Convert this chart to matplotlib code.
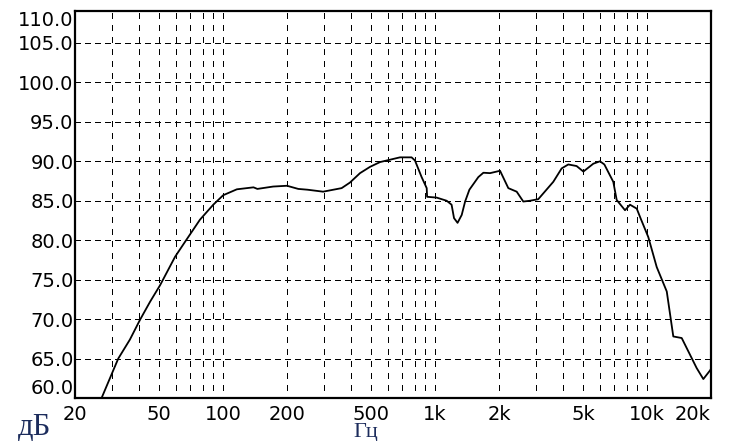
import numpy as np
import matplotlib
matplotlib.use("Agg")
import matplotlib.pyplot as plt

plt.rcParams['lines.scale_dashes'] = False

# frequency response
freq = [26.7, 30.3, 32.0, 36.3, 40.5, 45.2, 50.4, 59.3, 66.1, 77.7, 89.8, 100,
        116, 139, 145, 172, 200, 226, 250, 296, 362, 396, 442, 493, 549, 590,
        682, 774, 803, 863, 912, 916, 1016, 1133, 1195, 1227, 1275, 1334, 1384,
        1450, 1598, 1688, 1815, 2023, 2213, 2424, 2604, 2800, 3064, 3607, 3950,
        4245, 4646, 5000, 5574, 5990, 6280, 6920, 7180, 7860, 8300, 8930, 9300,
        10120, 11090, 12370, 13280, 14550, 17110, 18400, 19800, 20000]
level = [60.0, 63.5, 65.0, 67.4, 69.9, 72.2, 74.3, 77.9, 79.8, 82.6, 84.5, 85.7,
         86.45, 86.7, 86.5, 86.8, 86.9, 86.5, 86.4, 86.15, 86.6, 87.3, 88.5, 89.3,
         89.9, 90.1, 90.5, 90.5, 90.1, 88.0, 86.6, 85.5, 85.4, 85.0, 84.5, 82.8,
         82.2, 83.2, 84.9, 86.4, 88.0, 88.55, 88.5, 88.8, 86.6, 86.15, 84.9, 85.0,
         85.2, 87.4, 89.1, 89.6, 89.4, 88.7, 89.7, 90.0, 89.6, 87.4, 85.1, 83.8,
         84.5, 84.0, 82.8, 80.4, 76.6, 73.5, 67.8, 67.6, 63.8, 62.4, 63.5, 63.7]

xticks = [20, 50, 100, 200, 500, 1000, 2000, 5000, 10000, 20000]
xlabels = ["20", "50", "100", "200", "500", "1k", "2k", "5k", "10k", "20k"]
xminor = [30, 40, 60, 70, 80, 90, 300, 400, 600, 700, 800, 900,
          3000, 4000, 6000, 7000, 8000, 9000]
yticks = [60, 65, 70, 75, 80, 85, 90, 95, 100, 105]

fig = plt.figure(figsize=(7.3, 4.41), dpi=100)
ax = fig.add_axes([75/730, 43/441, 636/730, 387/441])

ax.plot(freq, level, color='black', lw=1.3, zorder=3)

ax.set_xscale('log')
ax.set_xlim(20, 20000)
ax.set_ylim(60, 109.05)

ax.set_xticks(xticks)
ax.set_xticks(xminor, minor=True)
lbls = ax.set_xticklabels(xlabels, fontsize=14)
lbls[-1].set_ha('right')
ax.set_yticks(yticks)
ylbls = ax.set_yticklabels(["%.1f" % v for v in yticks], fontsize=14)
ylbls[0].set_va('bottom')
ax.text(-0.002, 1.0, "110.0", transform=ax.transAxes, ha='right', va='top',
        fontsize=14)

ax.tick_params(which='both', length=0)
ax.tick_params(axis='x', pad=5.0)
ax.tick_params(axis='y', pad=1)

ax.grid(axis='x', which='both', color='black', lw=0.75, antialiased=False,
        linestyle=(3, (4.3, 5.0)))
ax.grid(axis='y', which='major', color='black', lw=0.75, antialiased=False,
        linestyle=(0, (3.6, 3.2)))

for s in ax.spines.values():
    s.set_linewidth(1.6)

fig.text(18/730, 1 - 435/441, "дБ", family='Liberation Serif', fontsize=22,
         color='#1c2c5c', ha='left', va='baseline')
fig.text(353/730, 1 - 437/441, "Гц", family='Liberation Serif', fontsize=16,
         color='#1c2c5c', ha='left', va='baseline')

fig.savefig("out.png", dpi=100)
